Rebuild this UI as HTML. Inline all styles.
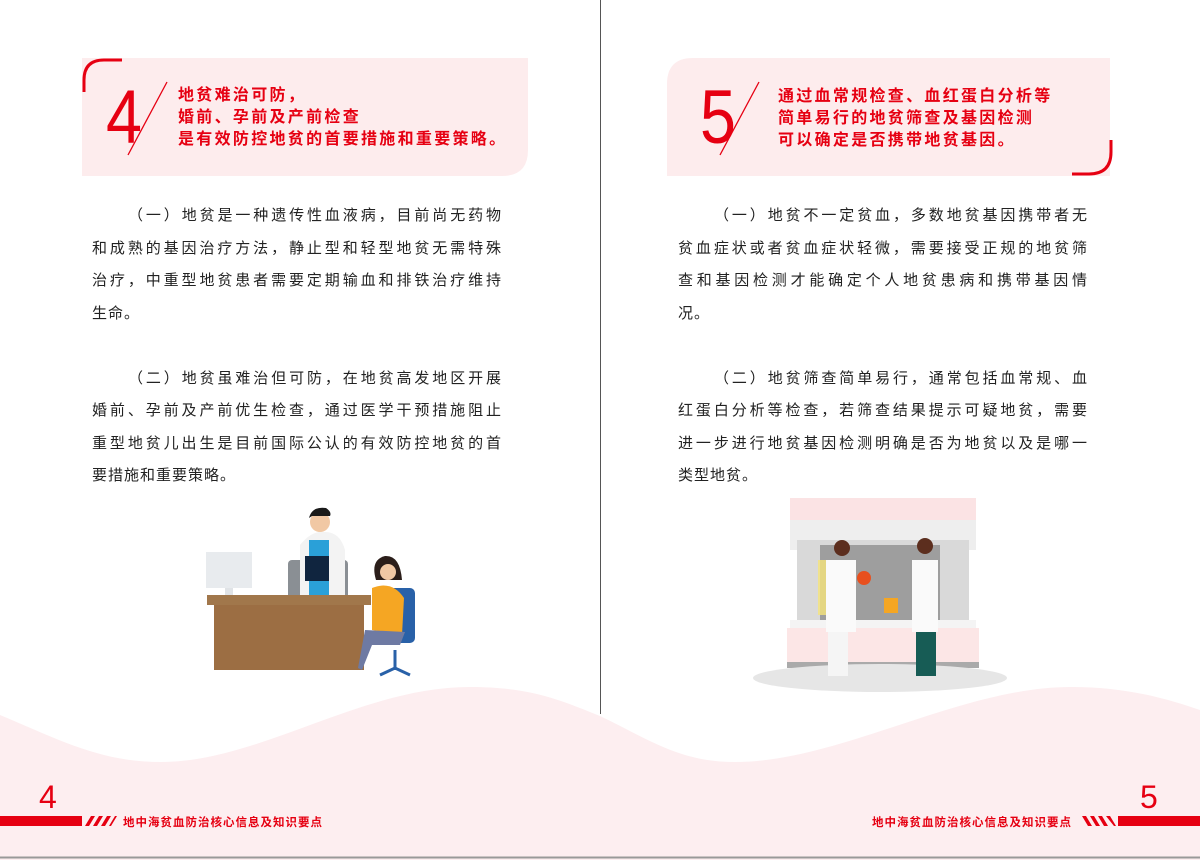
<!DOCTYPE html>
<html><head><meta charset="utf-8"><style>
*{margin:0;padding:0;box-sizing:border-box}
body{width:1200px;height:860px;position:relative;background:#fff;overflow:hidden;font-family:"Liberation Sans","Noto Sans CJK SC",sans-serif}
.abs{position:absolute}
.ht{position:absolute;color:#e60012;font-weight:bold;font-size:16px;line-height:22px;letter-spacing:2.3px;white-space:nowrap}
.num{position:absolute;color:#e60012;font-size:76px;line-height:76px;font-weight:normal;transform:scaleX(0.85);transform-origin:left}
.para{position:absolute;width:410px;font-size:15px;color:#222;letter-spacing:1px}
.para div{height:32.5px;line-height:32.5px;text-align:justify;text-align-last:justify;white-space:nowrap}
.para div.i{padding-left:36px}
.para div.l{text-align-last:left}
.foot{position:absolute;color:#e60012;font-weight:bold;font-size:11.5px;letter-spacing:1px;white-space:nowrap}
</style></head><body>
<svg class="abs" style="left:0;top:0" width="1200" height="860">
<path d="M0 715 C60 740 100 762 161 762 C260 762 360 687 470 687 C530 687 560 700 600 716 C650 740 680 762 735 762 C840 762 960 687 1071 687 C1130 687 1170 700 1200 710 L1200 860 L0 860 Z" fill="#fdeef0"/>
<line x1="600.5" y1="0" x2="600.5" y2="714" stroke="#555" stroke-width="1"/>
<line x1="0" y1="857.5" x2="1200" y2="857.5" stroke="#999" stroke-width="2"/>
<path d="M82 58 H528 V150 Q528 176 502 176 H82 Z" fill="#fdeced"/>
<path d="M84 92 V80 Q84 60 104 60 H122" fill="none" stroke="#e60012" stroke-width="3"/>
<line x1="167" y1="82" x2="128" y2="155" stroke="#e60012" stroke-width="1.3"/>
<path d="M693 58 H1110 V176 H667 V84 Q667 58 693 58 Z" fill="#fdeced"/>
<path d="M1111 140 V152 Q1111 174 1089 174 H1072" fill="none" stroke="#e60012" stroke-width="3"/>
<line x1="759" y1="82" x2="720" y2="155" stroke="#e60012" stroke-width="1.3"/>
<rect x="0" y="816" width="82" height="10" fill="#e60012"/>
<g fill="#e60012"><polygon points="85,826 91,816 95,816 89,826"/><polygon points="93,826 99,816 103,816 97,826"/><polygon points="101,826 107,816 111,816 105,826"/><polygon points="109,826 115,816 117,816 111,826"/></g>
<rect x="1118" y="816" width="82" height="10" fill="#e60012"/>
<g fill="#e60012"><polygon points="1082,816 1086,816 1092,826 1088,826"/><polygon points="1090,816 1094,816 1100,826 1096,826"/><polygon points="1098,816 1102,816 1108,826 1104,826"/><polygon points="1106,816 1110,816 1116,826 1114,826"/></g>
<rect x="288" y="560" width="60" height="40" rx="4" fill="#8a8f94"/>
<rect x="206" y="552" width="46" height="36" fill="#e8ebee"/>
<rect x="225" y="588" width="8" height="12" fill="#e0e3e6"/>
<path d="M300 545 Q312 530 325 532 Q340 532 345 550 L345 598 H300 Z" fill="#f3f3f3"/>
<rect x="309" y="540" width="20" height="58" fill="#2aa0d8"/>
<rect x="305" y="556" width="24" height="25" fill="#10253f"/>
<circle cx="320" cy="522" r="10" fill="#f1c8a4"/>
<path d="M309 518 Q312 506 326 508 Q332 512 330 516 H312 Z" fill="#1a1a1a"/>
<rect x="207" y="595" width="164" height="10" fill="#a1774b"/>
<rect x="214" y="605" width="150" height="65" fill="#9c6e43"/>
<rect x="385" y="588" width="30" height="55" rx="5" fill="#2961a8"/>
<path d="M395 650 L395 670 M380 675 L395 668 L410 675" stroke="#2961a8" stroke-width="3" fill="none"/>
<path d="M376 580 Q370 560 385 556 Q400 555 402 580 Z" fill="#2b1e1a"/>
<circle cx="388" cy="572" r="8" fill="#f1c8a4"/>
<path d="M372 588 Q392 580 404 598 L402 635 L372 630 Z" fill="#f5a623"/>
<path d="M365 630 L405 632 L400 645 L372 645 L362 670 L358 668 Z" fill="#6e7aa3"/>
<rect x="790" y="498" width="186" height="22" fill="#fbe3e4"/>
<rect x="790" y="520" width="186" height="30" fill="#eeeeee"/>
<rect x="797" y="540" width="172" height="92" fill="#d9d9d9"/>
<rect x="820" y="545" width="120" height="85" fill="#9e9e9e"/>
<rect x="790" y="620" width="186" height="10" fill="#f4f4f4"/>
<rect x="787" y="628" width="192" height="38" fill="#fce6e6"/>
<rect x="787" y="662" width="192" height="6" fill="#aaa"/>
<ellipse cx="880" cy="678" rx="127" ry="14" fill="#e6e6e6"/>
<rect x="818" y="560" width="30" height="55" fill="#f5e37a" opacity="0.8"/>
<path d="M826 560 H856 V632 H826 Z" fill="#fafafa"/>
<rect x="828" y="632" width="20" height="44" fill="#f5f5f5"/>
<circle cx="842" cy="548" r="8" fill="#5c2e1e"/>
<circle cx="864" cy="578" r="7" fill="#e8501e"/>
<path d="M912 560 H938 V632 H912 Z" fill="#fafafa"/>
<rect x="916" y="632" width="20" height="44" fill="#175c55"/>
<circle cx="925" cy="546" r="8" fill="#5c2e1e"/>
<rect x="884" y="598" width="14" height="15" fill="#f5a623"/>
</svg>
<div class="ht" style="left:178px;top:85px">地贫难治可防，<br>婚前、孕前及产前检查<br>是有效防控地贫的首要措施和重要策略。</div>
<div class="num" style="left:106px;top:80px">4</div>
<div class="ht" style="left:778px;top:86px">通过血常规检查、血红蛋白分析等<br>简单易行的地贫筛查及基因检测<br>可以确定是否携带地贫基因。</div>
<div class="num" style="left:700px;top:80px">5</div>
<div class="para" style="left:92px;top:200px">
<div class="i">（一）地贫是一种遗传性血液病，目前尚无药物</div>
<div>和成熟的基因治疗方法，静止型和轻型地贫无需特殊</div>
<div>治疗，中重型地贫患者需要定期输血和排铁治疗维持</div>
<div class="l">生命。</div>
<div class="l"></div>
<div class="i">（二）地贫虽难治但可防，在地贫高发地区开展</div>
<div>婚前、孕前及产前优生检查，通过医学干预措施阻止</div>
<div>重型地贫儿出生是目前国际公认的有效防控地贫的首</div>
<div class="l">要措施和重要策略。</div>
</div>
<div class="para" style="left:678px;top:200px">
<div class="i">（一）地贫不一定贫血，多数地贫基因携带者无</div>
<div>贫血症状或者贫血症状轻微，需要接受正规的地贫筛</div>
<div>查和基因检测才能确定个人地贫患病和携带基因情</div>
<div class="l">况。</div>
<div class="l"></div>
<div class="i">（二）地贫筛查简单易行，通常包括血常规、血</div>
<div>红蛋白分析等检查，若筛查结果提示可疑地贫，需要</div>
<div>进一步进行地贫基因检测明确是否为地贫以及是哪一</div>
<div class="l">类型地贫。</div>
</div>
<div class="abs" style="left:39px;top:780px;font-size:32px;color:#e60012;line-height:34px">4</div>
<div class="abs" style="left:1140px;top:780px;font-size:32px;color:#e60012;line-height:34px">5</div>
<div class="foot" style="left:123px;top:814px">地中海贫血防治核心信息及知识要点</div>
<div class="foot" style="left:872px;top:814px">地中海贫血防治核心信息及知识要点</div>
</body></html>
